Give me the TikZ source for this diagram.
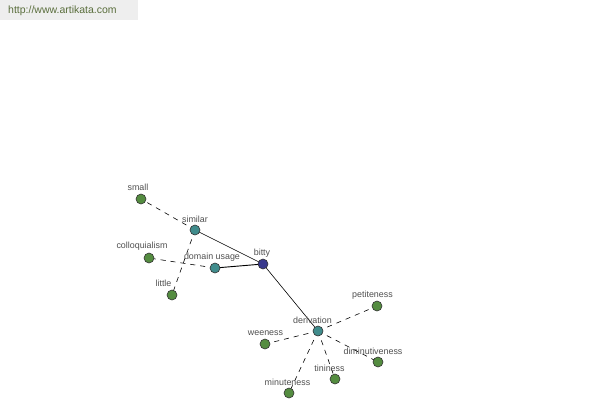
\documentclass[tikz,border=0pt]{standalone}
\usepackage{fontspec}
\setmainfont{Liberation Sans}
\definecolor{leafgreen}{RGB}{84,140,64}
\definecolor{tealc}{RGB}{64,140,140}
\definecolor{navyc}{RGB}{56,56,140}
\definecolor{labelgray}{RGB}{80,80,80}
\definecolor{hdrbg}{RGB}{238,238,238}
\definecolor{hdrtext}{RGB}{90,110,60}
\tikzset{
  dot/.style={circle, draw=black!80, line width=0.6pt, minimum size=10pt, inner sep=0pt},
  leaf/.style={dot, fill=leafgreen},
  mid/.style={dot, fill=tealc},
  root/.style={dot, fill=navyc},
  lbl/.style={text=labelgray, font=\fontsize{8.9}{9}\selectfont, inner sep=0pt},
  rel/.style={line width=0.6pt, black},
  dashrel/.style={line width=0.6pt, black, dash pattern=on 5pt off 5pt},
}
\begin{document}
\begin{tikzpicture}[x=1pt,y=-1pt]
\useasboundingbox[fill=white] (0,0) rectangle (600,400);
\fill[hdrbg] (0,0) rectangle (138,20);
\node[anchor=west, text=hdrtext, font=\fontsize{10.5}{11}\selectfont, inner sep=0pt] (hdr) at (8,11) {http://www.artikata.com};
% nodes positions
\coordinate (pbitty) at (263,264);
\coordinate (psimilar) at (195,230);
\coordinate (pdomain) at (215,268);
\coordinate (pderiv) at (318,331);
\coordinate (psmall) at (141,199);
\coordinate (pcolloq) at (149,258);
\coordinate (plittle) at (172,295);
\coordinate (ppetite) at (377,306);
\coordinate (pwee) at (265,344);
\coordinate (pdimin) at (378,362);
\coordinate (ptiny) at (335,379);
\coordinate (pminute) at (289,393);
% edges
\draw[rel] (psimilar) -- (pbitty);
\draw[rel, line width=0.9pt] (pdomain) -- (pbitty);
\draw[rel] (pbitty) -- (pderiv);
\draw[dashrel] (psimilar) -- (psmall);
\draw[dashrel] (psimilar) -- (plittle);
\draw[dashrel] (pdomain) -- (pcolloq);
\draw[dashrel] (pderiv) -- (ppetite);
\draw[dashrel] (pderiv) -- (pwee);
\draw[dashrel] (pderiv) -- (pdimin);
\draw[dashrel] (pderiv) -- (ptiny);
\draw[dashrel] (pderiv) -- (pminute);
% dots
\node[root] (bitty) at (pbitty) {};
\node[mid] (similar) at (psimilar) {};
\node[mid] (domain) at (pdomain) {};
\node[mid] (deriv) at (pderiv) {};
\node[leaf] (small) at (psmall) {};
\node[leaf] (colloq) at (pcolloq) {};
\node[leaf] (little) at (plittle) {};
\node[leaf] (petite) at (ppetite) {};
\node[leaf] (wee) at (pwee) {};
\node[leaf] (dimin) at (pdimin) {};
\node[leaf] (tiny) at (ptiny) {};
\node[leaf] (minute) at (pminute) {};
% labels
\node[lbl] (lbitty) at (262,253) {bitty};
\node[lbl] (lsimilar) at (195,219) {similar};
\node[lbl] (ldomain) at (212,257) {domain usage};
\node[lbl] (lderiv) at (312.5,320) {derivation};
\node[lbl] (lsmall) at (138,187) {small};
\node[lbl] (lcolloq) at (142,246) {colloquialism};
\node[lbl] (llittle) at (163.5,283) {little};
\node[lbl] (lpetite) at (372.5,295) {petiteness};
\node[lbl] (lwee) at (265.5,333) {weeness};
\node[lbl] (ldimin) at (373,351) {diminutiveness};
\node[lbl] (ltiny) at (329.5,368) {tininess};
\node[lbl] (lminute) at (287.5,382) {minuteness};
\end{tikzpicture}
\end{document}
